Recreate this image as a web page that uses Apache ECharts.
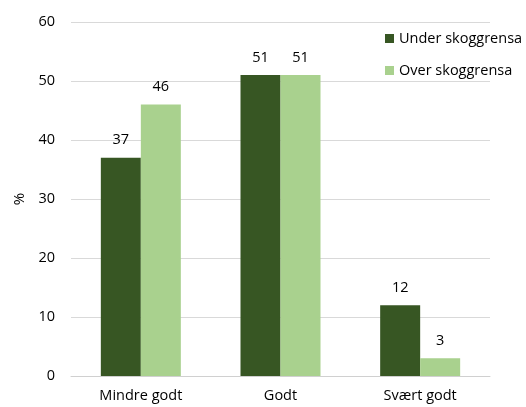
<!DOCTYPE html>
<html>
<head>
<meta charset="utf-8">
<script src="https://cdn.jsdelivr.net/npm/echarts@6/dist/echarts.min.js"></script>
<style>
  html, body { margin: 0; padding: 0; background: #fff; }
  #chart { width: 526px; height: 407px; }
</style>
</head>
<body>
<div id="chart"></div>
<script>
var categories = ['Mindre godt', 'Godt', 'Svært godt'];
var seriesNames = ['Under skoggrensa', 'Over skoggrensa'];
var underValues = [37, 51, 12];
var overValues = [46, 51, 3];

var chart = echarts.init(document.getElementById('chart'));
var font = 'Open Sans';
chart.setOption({
    animation: false,
    textStyle: { fontFamily: font },
    grid: { left: 71, right: 36, top: 22, bottom: 31 },
    legend: {
        orient: 'vertical',
        left: 380,
        top: 26,
        itemWidth: 9,
        itemHeight: 9,
        itemGap: 17,
        icon: 'rect',
        textStyle: { fontFamily: font, fontSize: 14.5, color: '#000' },
        data: seriesNames
    },
    xAxis: {
        type: 'category',
        data: categories,
        axisTick: { show: false },
        axisLine: { lineStyle: { color: '#d0d0d0' } },
        axisLabel: { fontFamily: font, fontSize: 14.5, color: '#000', margin: 12 }
    },
    yAxis: {
        type: 'value',
        min: 0,
        max: 60,
        interval: 10,
        name: '%',
        nameLocation: 'middle',
        nameGap: 44,
        nameTextStyle: { fontFamily: font, fontSize: 15, color: '#000' },
        axisLabel: { fontFamily: font, fontSize: 14.5, color: '#000', margin: 16 },
        splitLine: { lineStyle: { color: '#d9d9d9' } }
    },
    series: [
        {
            name: seriesNames[0],
            type: 'bar',
            data: underValues,
            barWidth: 40,
            barGap: '0%',
            itemStyle: { color: '#375623' },
            label: { show: true, position: 'top', distance: 10, fontFamily: font, fontSize: 14.5, color: '#000' }
        },
        {
            name: seriesNames[1],
            type: 'bar',
            data: overValues,
            barWidth: 40,
            barGap: '0%',
            itemStyle: { color: '#a9d18e' },
            label: { show: true, position: 'top', distance: 10, fontFamily: font, fontSize: 14.5, color: '#000' }
        }
    ]
});
</script>
</body>
</html>
